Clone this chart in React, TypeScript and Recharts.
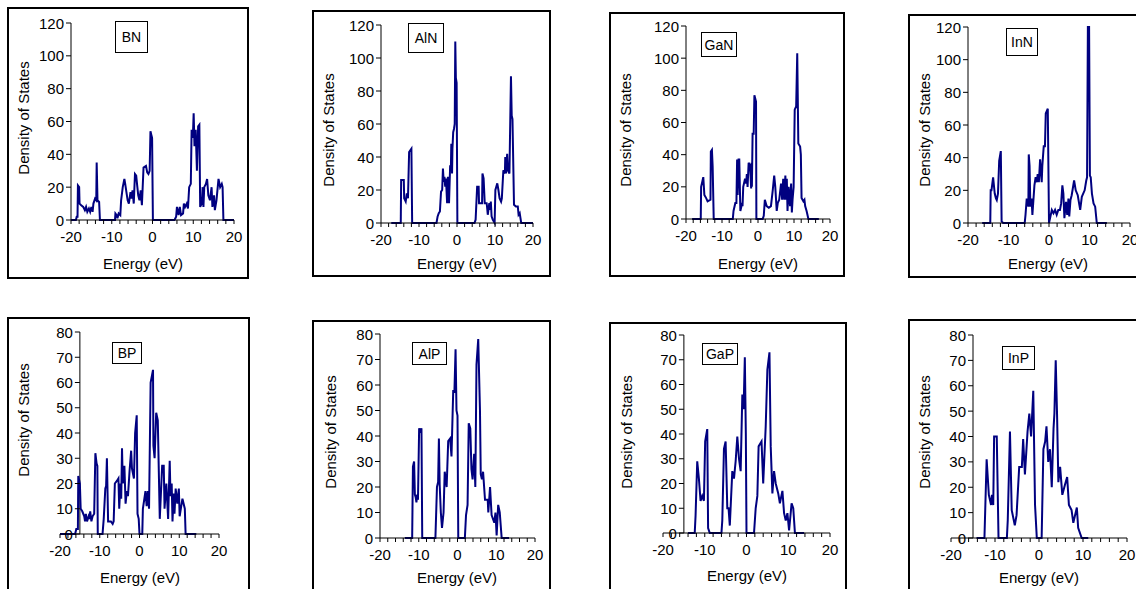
import React from 'react';
import { LineChart, Line, XAxis, YAxis, ReferenceLine } from 'recharts';

type Pt = [number, number];

// energy (eV), density of states
const bnDos: Pt[] = [
  [-20, 0], [-18.8, 0], [-18.6, 2], [-18.4, 2], [-18.3, 21], [-18.0, 20], [-17.9, 10], [-17.5, 9], [-17, 8],
  [-16.6, 6], [-16.3, 8], [-16, 5], [-15.6, 7], [-15.3, 5], [-15, 8], [-14.7, 5], [-14.5, 10], [-14.1, 13],
  [-13.8, 12], [-13.7, 35], [-13.5, 12], [-13.1, 11], [-12.9, 0], [-9.2, 0], [-9.1, 4], [-8.8, 3], [-8.6, 1],
  [-8.3, 4], [-7.9, 3], [-7.7, 12], [-7.3, 20], [-6.9, 25], [-6.7, 22], [-6.4, 17], [-6.1, 12], [-5.8, 10],
  [-5.4, 17], [-5.2, 13], [-4.9, 18], [-4.6, 10], [-4.3, 28], [-4.0, 27], [-3.8, 22], [-3.5, 15], [-3.2, 12],
  [-2.9, 18], [-2.6, 9], [-2.2, 32], [-1.6, 33], [-1.3, 29], [-1.0, 28], [-0.7, 30], [-0.5, 54], [-0.3, 52],
  [-0.1, 50], [0.1, 0], [5.4, 0], [5.8, 2], [6.0, 8], [6.4, 3], [6.7, 8], [7.0, 3], [7.5, 4], [7.7, 10],
  [8.0, 8], [8.4, 10], [8.7, 7], [9.0, 20], [9.4, 22], [9.6, 55], [9.9, 50], [10.1, 65], [10.3, 45], [10.6, 55],
  [10.9, 30], [11.2, 57], [11.5, 58], [11.7, 8], [12.1, 10], [12.3, 20], [12.5, 8], [12.7, 20], [13.1, 22],
  [13.4, 25], [13.7, 15], [14.1, 12], [14.5, 20], [14.7, 8], [15.1, 15], [15.3, 6], [15.7, 12], [16.2, 25],
  [16.6, 20], [17.0, 22], [17.2, 20], [17.4, 0], [20, 0],
];

const alnDos: Pt[] = [
  [-17.3, 0], [-14.8, 0], [-14.7, 26], [-14.0, 26], [-13.9, 15], [-13.5, 13], [-13.2, 18], [-12.9, 15],
  [-12.6, 43], [-12.0, 45], [-11.8, 0], [-5.4, 0], [-5.1, 4], [-4.8, 6], [-4.5, 7], [-4.2, 19], [-3.9, 20],
  [-3.7, 33], [-3.5, 25], [-3.3, 28], [-3.1, 22], [-2.9, 27], [-2.6, 12], [-2.4, 28], [-2.1, 12], [-1.8, 35],
  [-1.6, 34], [-1.5, 48], [-1.3, 30], [-1.2, 45], [-1.0, 55], [-0.8, 57], [-0.6, 60], [-0.45, 110], [-0.3, 88],
  [-0.1, 85], [0.1, 0], [4.6, 0], [4.9, 2], [5.3, 22], [5.7, 22], [5.8, 12], [6.6, 12], [6.7, 30], [7.0, 27],
  [7.3, 12], [7.8, 12], [7.9, 10], [8.1, 5], [8.5, 12], [8.7, 8], [8.9, 13], [9.1, 4], [9.4, 2], [9.9, 0],
  [10.1, 20], [10.6, 24], [10.9, 20], [11.2, 15], [11.6, 13], [11.8, 15], [12.2, 32], [12.6, 30], [12.7, 40],
  [12.9, 30], [13.2, 42], [13.4, 32], [13.8, 30], [14.2, 89], [14.4, 65], [14.6, 63], [15.0, 11], [15.5, 10],
  [16.0, 10], [16.2, 5], [16.5, 6], [16.9, 0], [20, 0],
];

const ganDos: Pt[] = [
  [-18.3, 0], [-15.9, 0], [-15.8, 20], [-15.6, 22], [-15.2, 26], [-14.9, 15], [-14.4, 13], [-14.0, 11],
  [-13.2, 12], [-13.1, 42], [-12.8, 43], [-12.6, 33], [-12.3, 0], [-7.0, 0], [-6.8, 5], [-6.3, 10], [-6.0, 10],
  [-5.8, 37], [-5.65, 15], [-5.4, 37], [-5.2, 37], [-4.9, 5], [-4.4, 10], [-4.3, 8], [-4.1, 20], [-3.6, 25],
  [-3.3, 22], [-3.1, 28], [-2.9, 20], [-2.6, 35], [-2.2, 33], [-1.9, 19], [-1.8, 35], [-1.7, 20], [-1.5, 53],
  [-1.2, 53], [-1.0, 77], [-0.55, 73], [-0.45, 0], [1.3, 0], [1.6, 2], [1.9, 12], [2.4, 8], [3.0, 7], [3.6, 8],
  [4.1, 18], [4.5, 27], [4.8, 20], [5.2, 5], [5.5, 10], [5.9, 12], [6.4, 22], [6.7, 12], [7.0, 25], [7.3, 12],
  [7.6, 27], [7.8, 12], [8.0, 25], [8.2, 5], [8.5, 20], [8.9, 8], [9.2, 22], [9.4, 4], [9.6, 12], [9.9, 20],
  [10.2, 68], [10.6, 70], [10.9, 103], [11.2, 47], [11.7, 45], [11.9, 40], [12.1, 13], [12.6, 11], [12.9, 12],
  [13.1, 8], [13.5, 5], [14.0, 0], [16.9, 0],
];

const innDos: Pt[] = [
  [-16.5, 0], [-14.5, 0], [-14.4, 20], [-14.2, 20], [-13.8, 28], [-13.4, 18], [-13.1, 15], [-12.9, 14],
  [-12.6, 18], [-12.3, 38], [-11.9, 44], [-11.7, 1], [-11.3, 0], [-6.0, 0], [-5.8, 5], [-5.5, 15], [-5.1, 10],
  [-5.0, 42], [-4.8, 35], [-4.6, 10], [-4.3, 15], [-4.1, 5], [-3.6, 23], [-3.3, 28], [-3.0, 25], [-2.8, 30],
  [-2.5, 25], [-2.2, 39], [-1.8, 25], [-1.65, 35], [-1.3, 47], [-1.0, 47], [-0.8, 67], [-0.3, 70], [0, 0],
  [0.7, 8], [1.1, 6], [1.5, 8], [1.9, 5], [2.3, 8], [2.7, 8], [3.0, 12], [3.3, 23], [3.55, 18], [3.8, 3],
  [4.2, 13], [4.5, 5], [4.8, 15], [5.0, 4], [5.3, 14], [5.6, 17], [6.2, 26], [6.6, 20], [7.1, 17], [7.7, 8],
  [8.1, 16], [8.8, 20], [9.2, 26], [9.4, 28], [9.6, 120], [9.9, 120], [10.1, 29], [10.3, 28], [10.6, 18],
  [11.0, 12], [11.4, 10], [11.8, 0], [14.3, 0],
];

const bpDos: Pt[] = [
  [-20, 0], [-16.2, 0], [-15.9, 2], [-15.5, 2], [-15.4, 23], [-15.0, 20], [-14.8, 10], [-14.4, 9], [-13.9, 7],
  [-13.7, 5], [-13.5, 8], [-13.2, 5], [-12.8, 7], [-12.6, 6], [-12.4, 9], [-12.1, 5], [-11.8, 7], [-11.4, 8],
  [-11.1, 32], [-10.8, 28], [-10.6, 27], [-10.5, 0], [-9.3, 0], [-9.0, 6], [-8.6, 18], [-8.4, 19], [-8.2, 30],
  [-7.9, 5], [-7.2, 5], [-6.75, 4], [-6.5, 5], [-6.2, 20], [-5.7, 21], [-5.3, 22], [-5.1, 10], [-4.8, 20],
  [-4.6, 14], [-4.4, 34], [-4.2, 20], [-3.8, 27], [-3.5, 12], [-3.2, 17], [-2.9, 15], [-2.5, 25], [-2.1, 33],
  [-1.9, 26], [-1.4, 22], [-1.1, 40], [-0.7, 47], [-0.5, 8], [-0.2, 6], [0, 0], [0.7, 0], [0.85, 10], [1.5, 17],
  [1.8, 11], [2.1, 17], [2.4, 10], [2.8, 60], [3.4, 65], [3.5, 35], [3.8, 30], [4.2, 48], [4.6, 45], [5.1, 6],
  [5.7, 27], [6.1, 27], [6.3, 10], [6.75, 20], [7.2, 6], [7.6, 29], [7.8, 15], [8.1, 20], [8.3, 5], [8.6, 16],
  [8.8, 8], [9.1, 18], [9.5, 12], [9.9, 18], [10.1, 7], [10.8, 14], [11.4, 10], [11.6, 0], [14.3, 0],
];

const alpDos: Pt[] = [
  [-13.6, 0], [-11.7, 0], [-11.5, 28], [-11.2, 30], [-11.0, 17], [-10.8, 16], [-10.6, 14], [-10.4, 17],
  [-10.2, 15], [-9.9, 43], [-9.6, 42], [-9.3, 43], [-9.1, 0], [-5.7, 0], [-5.3, 20], [-5.0, 22], [-4.8, 39],
  [-4.6, 21], [-4.3, 10], [-4.0, 4], [-3.6, 10], [-3.3, 26], [-2.8, 20], [-2.4, 38], [-1.9, 39], [-1.55, 32],
  [-1.1, 58], [-0.8, 57], [-0.5, 74], [-0.26, 50], [0, 48], [0.2, 0], [1.9, 0], [2.2, 9], [2.6, 13], [2.9, 45],
  [3.3, 43], [3.6, 27], [3.9, 23], [4.3, 33], [4.6, 20], [4.9, 68], [5.35, 78], [5.8, 50], [6.0, 25], [6.3, 23],
  [6.6, 26], [7.1, 15], [7.8, 15], [7.95, 10], [8.4, 20], [8.8, 9], [9.5, 6], [9.8, 10], [10.1, 1], [10.5, 13],
  [10.9, 10], [11.4, 0], [13.3, 0],
];

const gapDos: Pt[] = [
  [-14, 0], [-12.4, 0], [-12.2, 7], [-11.8, 29], [-11.4, 22], [-11.0, 13], [-10.6, 15], [-10.2, 13],
  [-9.9, 37], [-9.4, 42], [-9.2, 2], [-8.8, 0], [-6.0, 0], [-5.8, 5], [-5.4, 34], [-5.0, 37], [-4.6, 10],
  [-4.3, 10], [-4.0, 3], [-3.4, 25], [-3.0, 22], [-2.6, 29], [-2.2, 39], [-1.8, 30], [-1.4, 25], [-1.0, 56],
  [-0.7, 50], [-0.4, 71], [-0.16, 40], [0, 0], [1.8, 0], [2.2, 10], [2.6, 15], [2.9, 35], [3.6, 37], [4.0, 20],
  [4.6, 43], [5.0, 66], [5.5, 73], [5.8, 35], [6.2, 16], [6.6, 25], [7.0, 20], [7.6, 16], [8.0, 12], [8.6, 17],
  [9.0, 8], [9.4, 5], [9.8, 8], [10.2, 1], [10.8, 12], [11.2, 10], [11.6, 0], [13.8, 0],
];

const inpDos: Pt[] = [
  [-14.2, 0], [-12.4, 0], [-11.9, 31], [-11.4, 17], [-10.9, 13], [-10.7, 17], [-10.4, 13], [-10.2, 40],
  [-9.6, 40], [-9.2, 0], [-7.3, 0], [-7.1, 7], [-6.6, 42], [-6.2, 11], [-5.5, 5], [-5.1, 9], [-4.5, 28],
  [-3.9, 28], [-3.6, 39], [-3.2, 25], [-2.6, 42], [-2.2, 49], [-1.8, 40], [-1.3, 58], [-0.9, 13], [-0.5, 0],
  [0.6, 0], [1.0, 35], [1.4, 38], [1.7, 44], [2.1, 30], [2.5, 35], [2.9, 20], [3.3, 43], [3.5, 49], [3.8, 70],
  [4.1, 49], [4.4, 22], [4.8, 28], [5.3, 17], [5.9, 21], [6.4, 24], [6.8, 13], [7.4, 11], [7.8, 6], [8.6, 12],
  [8.9, 4], [9.7, 0], [11.2, 0],
];

const energyTicks = [-20, -18, -16, -14, -12, -10, -8, -6, -4, -2, 0, 2, 4, 6, 8, 10, 12, 14, 16, 18, 20];
const nitrideTicks = [0, 20, 40, 60, 80, 100, 120];
const phosphideTicks = [0, 10, 20, 30, 40, 50, 60, 70, 80];

const NAVY = '#000080';
const FONT = '"Liberation Sans", Arial, sans-serif';

interface PanelSpec {
  name: string;
  pts: Pt[];
  yTicks: number[];
  cross: number;
  frame: [number, number, number, number];
  box: [number, number, number, number];
  plot: [number, number, number, number];
  yLab: [number, number];
  xLab: [number, number];
}

const panels: PanelSpec[] = [
  { name: 'BN', pts: bnDos, yTicks: nitrideTicks, cross: -20, frame: [7, 7, 242, 272], box: [115, 21, 33, 32], plot: [71, 234, 23, 220], yLab: [23, 118], xLab: [143, 263] },
  { name: 'AlN', pts: alnDos, yTicks: nitrideTicks, cross: -20, frame: [312, 10, 239, 267], box: [408, 23, 36, 30], plot: [381, 533, 25, 223], yLab: [328, 130], xLab: [457, 263] },
  { name: 'GaN', pts: ganDos, yTicks: nitrideTicks, cross: -20, frame: [609, 12, 236, 265], box: [701, 32, 36, 25], plot: [686, 830, 26, 219], yLab: [625, 130], xLab: [758, 263] },
  { name: 'InN', pts: innDos, yTicks: nitrideTicks, cross: -20, frame: [908, 14, 260, 264], box: [1006, 28, 32, 28], plot: [968, 1130, 27, 223], yLab: [924, 130], xLab: [1048, 263] },
  { name: 'BP', pts: bpDos, yTicks: phosphideTicks, cross: -15, frame: [7, 317, 243, 320], box: [112, 342, 30, 22], plot: [60, 219, 332, 534], yLab: [23, 420], xLab: [140, 577] },
  { name: 'AlP', pts: alpDos, yTicks: phosphideTicks, cross: -20, frame: [312, 320, 239, 320], box: [412, 342, 35, 23], plot: [380, 535, 334, 538], yLab: [330, 432], xLab: [457, 577] },
  { name: 'GaP', pts: gapDos, yTicks: phosphideTicks, cross: -15, frame: [609, 322, 238, 320], box: [702, 343, 36, 22], plot: [663, 830, 335, 533], yLab: [626, 432], xLab: [747, 575] },
  { name: 'InP', pts: inpDos, yTicks: phosphideTicks, cross: -15, frame: [908, 319, 260, 320], box: [1002, 346, 33, 24], plot: [951, 1127, 335, 538], yLab: [924, 432], xLab: [1039, 577] },
];

const YTick = (props: any) => {
  const { y, payload, axisX } = props;
  return (
    <g>
      <line x1={axisX - 5} x2={axisX} y1={y} y2={y} stroke="#000" />
      <text x={axisX - 7} y={y} textAnchor="end" dominantBaseline="central" fontSize={15} fontFamily={FONT} fill="#000">
        {payload.value}
      </text>
    </g>
  );
};

const Panel: React.FC<{ p: PanelSpec }> = ({ p }) => {
  const data = p.pts.map(([e, d]) => ({ e, d }));
  const [px0, px1, py0, py1] = p.plot;
  const pw = px1 - px0;
  const ph = py1 - py0;
  const axisX = 50 + ((p.cross + 20) / 40) * pw;
  const yMax = p.yTicks[p.yTicks.length - 1];

  return (
    <>
      <div style={{ position: 'absolute', left: p.frame[0], top: p.frame[1], width: p.frame[2], height: p.frame[3], border: '2px solid #000', boxSizing: 'border-box', background: '#fff' }} />
      <div style={{ position: 'absolute', left: px0 - 50, top: py0 - 10 }}>
        <LineChart width={pw + 60} height={ph + 50} data={data} margin={{ top: 10, right: 10, left: 0, bottom: 0 }}>
          <XAxis
            type="number"
            dataKey="e"
            domain={[-20, 20]}
            ticks={energyTicks}
            interval={0}
            tickFormatter={(v: number) => (v % 10 === 0 ? String(v) : '')}
            height={40}
            tickSize={4}
            tickMargin={7}
            stroke="#000"
            tick={{ fill: '#000', fontSize: 15, fontFamily: FONT }}
          />
          <YAxis
            type="number"
            domain={[0, yMax]}
            ticks={p.yTicks}
            interval={0}
            width={50}
            axisLine={false}
            tickLine={false}
            tick={(tp: any) => <YTick {...tp} axisX={axisX} />}
          />
          <ReferenceLine x={p.cross} stroke="#000" strokeWidth={1} />
          <Line type="linear" dataKey="d" stroke={NAVY} strokeWidth={2} dot={false} isAnimationActive={false} />
        </LineChart>
      </div>
      <div style={{ position: 'absolute', left: p.box[0], top: p.box[1], width: p.box[2], height: p.box[3], border: '1.5px solid #000', boxSizing: 'border-box', display: 'flex', alignItems: 'center', justifyContent: 'center', fontSize: 14, background: '#fff' }}>
        {p.name}
      </div>
      <div style={{ position: 'absolute', left: p.yLab[0], top: p.yLab[1], transform: 'translate(-50%, -50%) rotate(-90deg)', whiteSpace: 'nowrap', fontSize: 15 }}>
        Density of States
      </div>
      <div style={{ position: 'absolute', left: p.xLab[0], top: p.xLab[1], transform: 'translate(-50%, -50%)', whiteSpace: 'nowrap', fontSize: 15 }}>
        Energy (eV)
      </div>
    </>
  );
};

export default function App() {
  return (
    <div style={{ position: 'absolute', left: 0, top: 0, width: 1136, height: 589, overflow: 'hidden', background: '#fff', fontFamily: FONT, color: '#000' }}>
      {panels.map((p) => (
        <Panel key={p.name} p={p} />
      ))}
    </div>
  );
}
